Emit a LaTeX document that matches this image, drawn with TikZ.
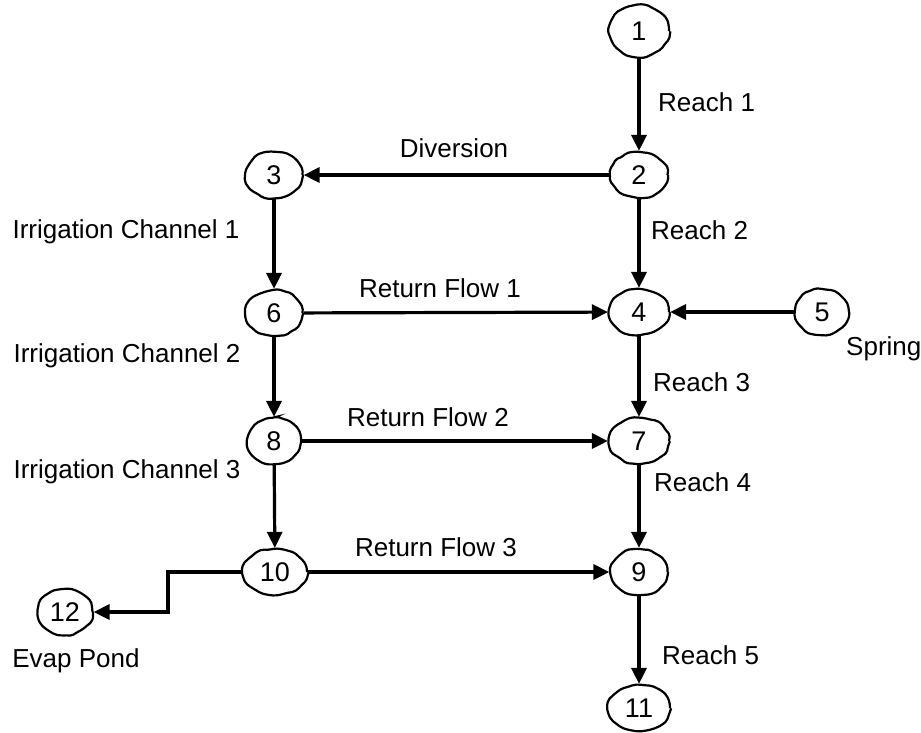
\documentclass[tikz,border=0pt]{standalone}
\usepackage{fontspec}
\setmainfont{Liberation Sans}
\usetikzlibrary{arrows.meta,shapes.geometric,decorations.pathmorphing}
\begin{document}
\begin{tikzpicture}[x=1pt,y=-1pt,
  site/.style={ellipse, draw, line width=2.2pt, minimum width=57pt, minimum height=46pt, inner sep=0pt,
    decorate, decoration={random steps, segment length=6pt, amplitude=1pt}, rounded corners=2pt,
    font=\fontsize{27}{27}\selectfont},
  flow/.style={line width=3.2pt, -{Triangle[length=16pt,width=15pt]}},
  lbl/.style={font=\fontsize{26}{26}\selectfont, inner sep=0pt}]
\pgfmathsetseed{7}
\useasboundingbox (0,0) rectangle (921,732);
% nodes
\node[site, minimum height=52pt, minimum width=60pt] (n1) at (639,31) {1};
\node[site] (n2) at (639,175) {2};
\node[site] (n3) at (274,175) {3};
\node[site, minimum width=60pt] (n4) at (639,312) {4};
\node[site, minimum width=54pt] (n5) at (822,312) {5};
\node[site] (n6) at (274,313) {6};
\node[site, minimum width=60pt] (n7) at (639,441) {7};
\node[site, minimum width=54pt] (n8) at (274,441) {8};
\node[site] (n9) at (639,572) {9};
\node[site, minimum width=64pt] (n10) at (275,572) {10};
\node[site, minimum width=62pt] (n11) at (639,708) {11};
\node[site, minimum width=55pt] (n12) at (65,612) {12};
\coordinate (bend) at (168,572);
% connectors
\draw[flow] (n1) -- (n2);
\draw[flow] (n2) -- (n3);
\draw[flow] (n2) -- (n4);
\draw[flow] (n3) -- (n6);
\draw[flow] (n6) -- (n4);
\draw[flow] (n5) -- (n4);
\draw[flow] (n4) -- (n7);
\draw[flow] (n6) -- (n8);
\draw[flow] (n8) -- (n7);
\draw[flow] (n7) -- (n9);
\draw[flow] (n8) -- (n10);
\draw[flow] (n10) -- (n9);
\draw[flow] (n9) -- (n11);
\draw[flow] (n10.west) -- (bend) |- (n12.east);
% labels
\node[lbl, anchor=west] (l1) at (658,102) {Reach 1};
\node[lbl] (ld) at (454,148) {Diversion};
\node[lbl, anchor=west] (l2) at (651,230) {Reach 2};
\node[lbl] (lc1) at (126,232) {Irrigation Channel 1};
\node[lbl] (lr1) at (440,288) {Return Flow 1};
\node[lbl, anchor=west] (ls) at (846,349) {Spring};
\node[lbl] (lc2) at (127,356) {Irrigation Channel 2};
\node[lbl, anchor=west] (l3) at (653,382) {Reach 3};
\node[lbl] (lr2) at (428,417) {Return Flow 2};
\node[lbl] (lc3) at (127,472) {Irrigation Channel 3};
\node[lbl, anchor=west] (l4) at (654,482) {Reach 4};
\node[lbl] (lr3) at (436,547) {Return Flow 3};
\node[lbl, anchor=west] (l5) at (662,655) {Reach 5};
\node[lbl] (le) at (76,661) {Evap Pond};
\end{tikzpicture}
\end{document}
